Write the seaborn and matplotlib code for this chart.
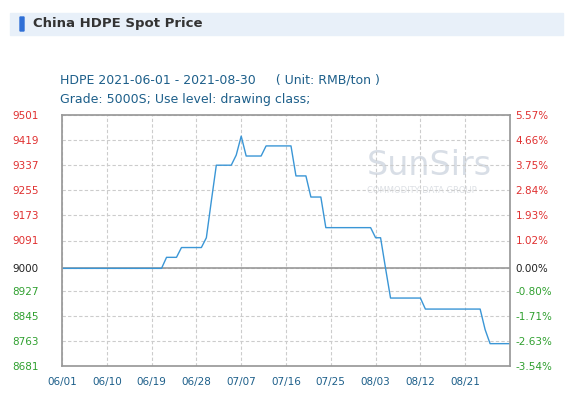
import matplotlib
matplotlib.use("Agg")
import matplotlib.pyplot as plt
import matplotlib.dates as mdates
from matplotlib.patches import Rectangle, FancyBboxPatch
import pandas as pd
import seaborn as sns

# daily prices 2021-06-01 .. 2021-08-30
prices = (
    [9000] * 21
    + [9036] * 3
    + [9068] * 5
    + [9100, 9220, 9337, 9337, 9337, 9337, 9370, 9432]
    + [9367] * 4
    + [9400] * 6
    + [9302] * 3
    + [9233] * 3
    + [9133] * 10
    + [9100] * 2
    + [9000, 8903]
    + [8903] * 6
    + [8867] * 12
    + [8800]
    + [8754] * 5
)
dates = pd.date_range("2021-06-01", periods=len(prices), freq="D")
df = pd.DataFrame({"date": dates, "price": prices})

base = 9000
left_ticks = [8681, 8763, 8845, 8927, 9000, 9091, 9173, 9255, 9337, 9419, 9501]
right_labels = ["-3.54%", "-2.63%", "-1.71%", "-0.80%", "0.00%", "1.02%",
                "1.93%", "2.84%", "3.75%", "4.66%", "5.57%"]
x_ticks = ["2021-06-01", "2021-06-10", "2021-06-19", "2021-06-28", "2021-07-07",
           "2021-07-16", "2021-07-25", "2021-08-03", "2021-08-12", "2021-08-21"]

sns.set_theme(style="white")
plt.rcParams["font.family"] = ["DejaVu Sans"]

fig = plt.figure(figsize=(5.74, 4.01), dpi=100)
fig.patches.append(Rectangle((10 / 574, 1 - 35 / 401), 553 / 574, 22 / 401,
                             transform=fig.transFigure, color="#e8f0f9", zorder=0))
fig.patches.append(FancyBboxPatch((20 / 574, 1 - 31 / 401), 4 / 574, 14 / 401,
                                  boxstyle="round,pad=0", transform=fig.transFigure,
                                  color="#2f6fd6", zorder=1))
fig.text(33 / 574, 1 - 24 / 401, "China HDPE Spot Price", fontsize=9.5,
         fontweight="bold", color="#333333", va="center")
fig.text(60 / 574, 1 - 80 / 401, "HDPE 2021-06-01 - 2021-08-30     ( Unit: RMB/ton )",
         fontsize=9, color="#1d5f8a", va="center")
fig.text(60 / 574, 1 - 100 / 401, "Grade: 5000S; Use level: drawing class;",
         fontsize=9, color="#1d5f8a", va="center")

ax = fig.add_axes([62 / 574, 1 - 366 / 401, 448 / 574, 251 / 401])
sns.lineplot(data=df, x="date", y="price", ax=ax, color="#3a96d6", linewidth=1)
ax.set_xlim(pd.Timestamp("2021-06-01"), pd.Timestamp("2021-08-30"))
ax.set_ylim(left_ticks[0], left_ticks[-1])
ax.axhline(base, color="#999999", linewidth=1.2, zorder=1)
ax.set_xticks(pd.to_datetime(x_ticks))
ax.xaxis.set_major_formatter(mdates.DateFormatter("%m/%d"))
ax.set_yticks(left_ticks)
ax.grid(True, linestyle=(0, (3, 2)), color="#cccccc", linewidth=0.8)
ax.set_xlabel("")
ax.set_ylabel("")
for s in ax.spines.values():
    s.set_color("#999999")
ax.tick_params(axis="x", labelsize=7.5, colors="#1d5f8a", length=0, pad=8)
ax.tick_params(axis="y", labelsize=7.5, length=0, pad=36)
for lab in ax.get_yticklabels():
    lab.set_horizontalalignment("left")
    v = float(lab.get_text().replace("\u2212", "-"))
    lab.set_color("#e03030" if v > base else ("#222222" if v == base else "#30a030"))

ax2 = ax.twinx()
ax2.set_ylim(ax.get_ylim())
ax2.set_yticks(left_ticks)
ax2.set_yticklabels(right_labels)
ax2.tick_params(axis="y", labelsize=7.5, length=0, pad=4)
ax2.grid(False)
for s in ax2.spines.values():
    s.set_visible(False)
for lab, v in zip(ax2.get_yticklabels(), left_ticks):
    lab.set_color("#e03030" if v > base else ("#222222" if v == base else "#30a030"))

ax.text(0.68, 0.8, "SunSirs", transform=ax.transAxes, fontsize=24,
        color="#c8d0dc", alpha=0.7, va="center", zorder=0)
ax.text(0.68, 0.7, "COMMODITY DATA GROUP", transform=ax.transAxes, fontsize=6,
        color="#d4d8de", alpha=0.8, va="center", zorder=0)

fig.savefig("out.png", dpi=100)
